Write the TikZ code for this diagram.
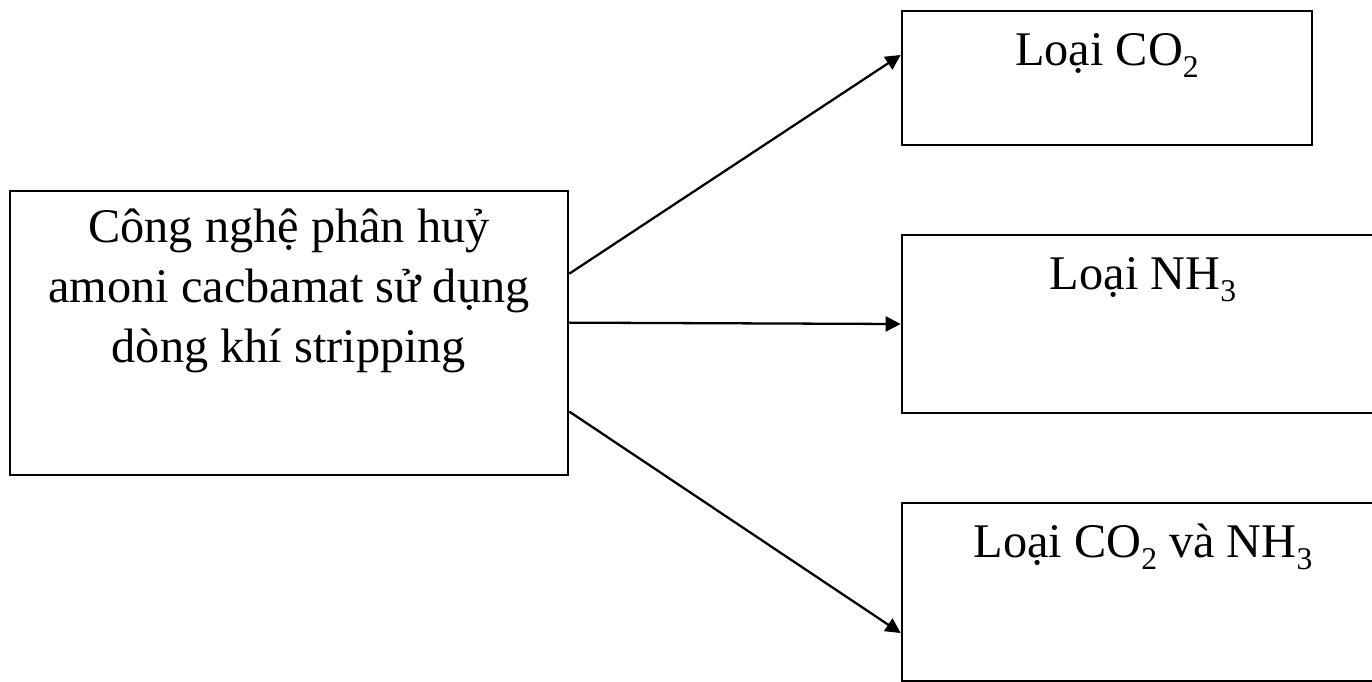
\documentclass[tikz,border=0pt]{standalone}
\usepackage{fontspec}
\setmainfont{Liberation Serif}
\usetikzlibrary{arrows.meta}

% lowered subscript for the formulas
\newcommand{\lowsub}[1]{\raisebox{-0.25em}{\fontsize{18}{18}\selectfont #1}}

\begin{document}
\begin{tikzpicture}[x=0.02cm, y=-0.02cm, line width=1.6pt]
    \clip (0,0) rectangle (1372,681);
    \fontsize{27.5}{32}\selectfont
    \draw
    (289,333)node[rectangle, draw, minimum width=11.16cm, minimum height=5.68cm, inner sep=0](src){}
    (1107,78)node[rectangle, draw, minimum width=8.2cm, minimum height=2.68cm, inner sep=0](co){}
    (1143,324)node[rectangle, draw, minimum width=9.64cm, minimum height=3.56cm, inner sep=0](nh){}
    (1143,592)node[rectangle, draw, minimum width=9.64cm, minimum height=3.56cm, inner sep=0](both){}
    (src.north)++(0,18)node[anchor=north, align=center, inner sep=0](srct){Công nghệ phân huỷ\\[2pt]amoni cacbamat sử dụng\\[2pt]dòng khí stripping}
    (co.north)++(0,56)node[anchor=base, inner sep=0](cot){Loại CO\lowsub{2}}
    (nh.north)++(0,56)node[anchor=base, inner sep=0](nht){Loại NH\lowsub{3}}
    (both.north)++(0,56)node[anchor=base, inner sep=0](botht){Loại CO\lowsub{2} và NH\lowsub{3}}
    (src.north east)++(0,84)coordinate(s1)
    (src.north east)++(0,133)coordinate(s2)
    (src.north east)++(0,222)coordinate(s3)
    (co.west)++(0,-23)coordinate(e1)
    (both.west)++(0,41)coordinate(e3)
    ;
    \draw[-{Triangle[length=3mm,width=3mm]}, line width=1.3pt](s1)--(e1);
    \draw[-{Triangle[length=3mm,width=3mm]}, line width=1.3pt](s2)--(nh.west);
    \draw[-{Triangle[length=3mm,width=3mm]}, line width=1.3pt](s3)--(e3);
\end{tikzpicture}
\end{document}
